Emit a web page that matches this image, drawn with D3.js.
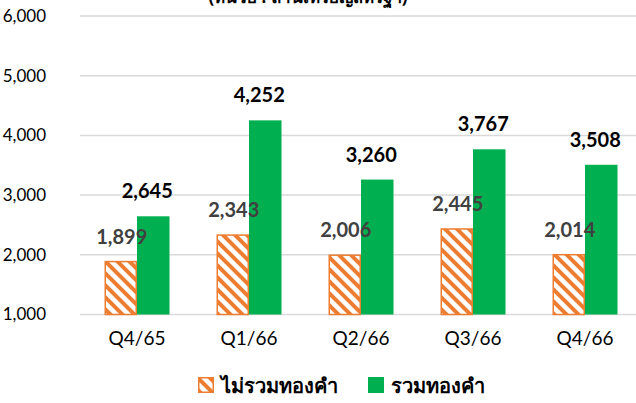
<!DOCTYPE html>
<html>
<head>
<meta charset="utf-8">
<script src="https://cdn.jsdelivr.net/npm/d3@7"></script>
<style>
  html, body { margin: 0; padding: 0; background: #fff; }
  svg { display: block; }
</style>
</head>
<body>
<svg id="chart" width="636" height="403"></svg>
<script>
const categories = ["Q4/65", "Q1/66", "Q2/66", "Q3/66", "Q4/66"];
const seriesNames = ["ไม่รวมทองคำ", "รวมทองคำ"];
const excludingGold = [1899, 2343, 2006, 2445, 2014];
const includingGold = [2645, 4252, 3260, 3767, 3508];
const yTicks = [1000, 2000, 3000, 4000, 5000, 6000];
const unitTitle = "(หน่วย : ล้านเหรียญสหรัฐฯ)";

const orange = "#ED7D31";
const green = "#00B050";
const font = "Lato, 'Open Sans', 'Noto Sans', sans-serif";

const svg = d3.select("#chart");
const defs = svg.append("defs");

// diagonal hatch running top-left to bottom-right
const P = 12;
const pat = defs.append("pattern")
  .attr("id", "hatch")
  .attr("patternUnits", "userSpaceOnUse")
  .attr("width", P).attr("height", P);
pat.append("rect").attr("width", P).attr("height", P).attr("fill", "#fff");
pat.append("path")
  .attr("d", `M-3,-3 L${P + 3},${P + 3} M-3,${P - 3} L3,${P + 3} M${P - 3},-3 L${P + 3},3`)
  .attr("stroke", orange).attr("stroke-width", 4);

const x = d3.scaleBand().domain(categories).range([81, 641]).paddingInner(0).paddingOuter(0);
const y = d3.scaleLinear().domain([1000, 6000]).range([314.5, 16]);
const barW = 32.5;

// gridlines
svg.append("g").selectAll("line").data(yTicks).join("line")
  .attr("x1", 80).attr("x2", 636)
  .attr("y1", d => y(d)).attr("y2", d => y(d))
  .attr("stroke", "#d9d9d9").attr("stroke-width", 1.5);

// y axis labels
const yAxis = d3.axisLeft(y).tickValues(yTicks).tickFormat(d3.format(",")).tickSize(0).tickPadding(0);
const yg = svg.append("g").attr("transform", "translate(46,0)").call(yAxis);
yg.select(".domain").remove();
yg.selectAll("text").attr("font-family", font).attr("font-size", 17).attr("fill", "#000");

// x axis labels
const xAxis = d3.axisBottom(x).tickSize(0).tickPadding(0);
const xg = svg.append("g").attr("transform", "translate(0,331)").call(xAxis);
xg.select(".domain").remove();
xg.selectAll("text").attr("font-family", font).attr("font-size", 19).attr("fill", "#000");

const cx = c => x(c) + x.bandwidth() / 2;

// bars
svg.append("g").selectAll("rect").data(categories).join("rect")
  .attr("x", c => cx(c) - barW + 0.75)
  .attr("y", (c, i) => y(excludingGold[i]) + 0.75)
  .attr("width", barW - 1.5)
  .attr("height", (c, i) => y(1000) - y(excludingGold[i]) - 0.75)
  .attr("fill", "url(#hatch)")
  .attr("stroke", orange).attr("stroke-width", 1.5);

svg.append("g").selectAll("rect").data(categories).join("rect")
  .attr("x", c => cx(c))
  .attr("y", (c, i) => y(includingGold[i]))
  .attr("width", barW)
  .attr("height", (c, i) => y(1000) - y(includingGold[i]))
  .attr("fill", green);

// value labels
const fmt = d3.format(",");
svg.append("g").selectAll("text").data(categories).join("text")
  .attr("x", c => cx(c) - barW / 2 + 1)
  .attr("y", (c, i) => y(excludingGold[i]) - 17)
  .attr("text-anchor", "middle")
  .attr("font-family", font).attr("font-weight", "bold").attr("font-size", 20)
  .attr("fill", "#404040")
  .text((c, i) => fmt(excludingGold[i]));

svg.append("g").selectAll("text").data(categories).join("text")
  .attr("x", c => cx(c) + barW / 2 - 6)
  .attr("y", (c, i) => y(includingGold[i]) - 18)
  .attr("text-anchor", "middle")
  .attr("font-family", font).attr("font-weight", "bold").attr("font-size", 20)
  .attr("fill", "#000")
  .text((c, i) => fmt(includingGold[i]));

// unit title (partly above the frame)
svg.append("text")
  .attr("x", 308).attr("y", 3)
  .attr("text-anchor", "middle")
  .attr("font-family", "'Noto Sans', sans-serif").attr("font-weight", "bold").attr("font-size", 17)
  .attr("fill", "#000")
  .text(unitTitle);

// legend
const legend = svg.append("g");
const items = [
  { name: seriesNames[0], fill: "url(#hatch)", stroke: orange, x: 198 },
  { name: seriesNames[1], fill: green, stroke: null, x: 368 }
];
items.forEach(it => {
  legend.append("rect")
    .attr("x", it.x + (it.stroke ? 0.75 : 0)).attr("y", 377 + (it.stroke ? 0.75 : 0))
    .attr("width", it.stroke ? 14.5 : 16).attr("height", it.stroke ? 14.5 : 16)
    .attr("fill", it.fill)
    .attr("stroke", it.stroke).attr("stroke-width", it.stroke ? 1.5 : 0);
  legend.append("text")
    .attr("x", it.x + 23).attr("y", 393)
    .attr("font-family", "'Noto Sans', sans-serif").attr("font-weight", "bold").attr("font-size", 20)
    .attr("fill", "#000")
    .text(it.name);
});
</script>
</body>
</html>
